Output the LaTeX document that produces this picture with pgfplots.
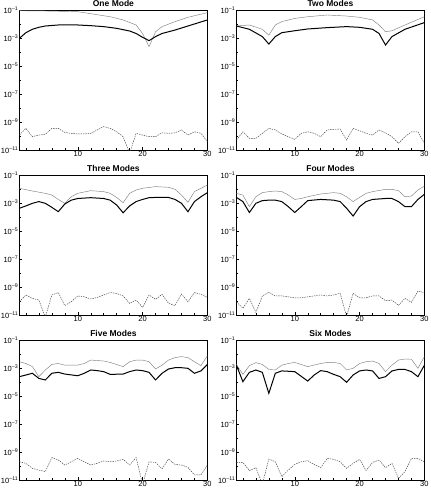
\documentclass[border=0pt]{standalone}
\usepackage{pgfplots}
\pgfplotsset{compat=1.18}
\usepackage{fontspec}
\setmainfont{Liberation Sans}

\pgfplotsset{
  every axis/.append style={
    scale only axis, width=188pt, height=140pt, anchor=north west,
    xmin=1, xmax=30, ymin=1e-11, ymax=1e-1,
    xtick={10,20,30}, xticklabels={10,20,30}, minor xtick={2,4,...,28},
    ytick={1e-11,1e-9,1e-7,1e-5,1e-3,1e-1},
    yticklabels={10\textsuperscript{–11},10\textsuperscript{–9},10\textsuperscript{–7},10\textsuperscript{–5},10\textsuperscript{–3},10\textsuperscript{–1}},
    minor ytick={1e-10,1e-8,1e-6,1e-4,1e-2},
    xtick pos=bottom, ytick pos=left,
    tick align=inside, major tick length=3pt, minor tick length=2pt,
    tick style={black, line width=0.4pt},
    axis line style={line width=0.5pt},
    xticklabel style={font=\fontsize{7.5}{8}\selectfont, inner sep=1.5pt},
    yticklabel style={font=\fontsize{7.5}{8}\selectfont, inner sep=1pt},
    title style={font=\bfseries\fontsize{8.5}{9}\selectfont, anchor=south, inner sep=0pt, yshift=-2.5pt},
  },
}
\tikzset{
  upper/.style={color=black!50, line width=0.45pt},
  lower/.style={color=black, line width=1.0pt},
  resid/.style={color=black!75, line width=0.45pt, dash pattern=on 1.4pt off 1pt},
}

\begin{document}
\begin{tikzpicture}
\path (0,0) rectangle (425pt,-497pt);

% ---------------- One Mode ----------------
\begin{axis}[ymode=log, at={(15pt,-10pt)}, title={One Mode}]
\addplot[upper] coordinates {(1,8.9e-2)(5,8.5e-2)(10,7.6e-2)(15,3.3e-2)(17,1.95e-2)(19,8.5e-3)(20,2.1e-3)(21,2.4e-4)(22,2.8e-3)(23,6.5e-3)(25,1.48e-2)(27,3.0e-2)(30,6.5e-2)};
\addplot[lower] coordinates {(1,9.5e-4)(2,2.4e-3)(3,4.2e-3)(4,5.8e-3)(5,7.2e-3)(7,8.5e-3)(10,8.5e-3)(12,7.6e-3)(14,6.5e-3)(16,4.9e-3)(18,3.16e-3)(19,2.1e-3)(20,1.12e-3)(21,6.5e-4)(22,1.26e-3)(23,2.1e-3)(25,3.7e-3)(27,7.2e-3)(30,1.95e-2)};
\addplot[resid] coordinates {(1,1.17e-10)(2,3.5e-10)(3,8.9e-11)(4,1.17e-10)(5,1.3e-10)(6,3.5e-10)(7,3.5e-10)(8,1.8e-10)(9,1.55e-10)(10,1.4e-10)(11,1.4e-10)(12,1.55e-10)(13,2.7e-10)(14,4.7e-10)(15,3.5e-10)(16,2.0e-10)(17,8.9e-11)(18,5.8e-12)(19,1.55e-10)(20,1.17e-10)(21,8.9e-11)(22,8.9e-11)(23,1.7e-10)(24,1.55e-10)(25,1.7e-10)(26,2.7e-10)(27,1.17e-10)(28,2.0e-10)(29,1.55e-10)(30,4.0e-11)};
\end{axis}

% ---------------- Two Modes ----------------
\begin{axis}[ymode=log, at={(232pt,-10pt)}, title={Two Modes}]
\addplot[upper] coordinates {(1,7.2e-3)(3,8.5e-3)(5,4.2e-3)(6,1.6e-3)(7,8.5e-3)(8,1.48e-2)(10,2.5e-2)(12,3.3e-2)(15,4.4e-2)(18,3.7e-2)(20,3.0e-2)(22,1.95e-2)(23,8.5e-3)(24,2.8e-3)(25,3.3e-3)(27,8.5e-3)(30,3.3e-2)};
\addplot[lower] coordinates {(1,7.2e-3)(3,4.2e-3)(5,1.26e-3)(6,3.7e-4)(7,1.26e-3)(8,2.4e-3)(10,3.3e-3)(12,4.4e-3)(15,5.5e-3)(18,6.5e-3)(20,5.8e-3)(22,4.2e-3)(23,2.1e-3)(24,3.16e-4)(25,1.26e-3)(27,4.2e-3)(30,1.26e-2)};
\addplot[resid] coordinates {(1,5.1e-11)(2,2.0e-10)(3,6.8e-11)(4,6.8e-11)(5,1.55e-10)(6,3.5e-10)(7,2.7e-10)(8,1.4e-10)(9,8.9e-11)(10,5.8e-11)(11,1.55e-10)(12,2.0e-10)(13,1.55e-10)(14,8.9e-11)(15,2.7e-10)(16,3.0e-10)(17,3.1e-10)(18,5.1e-11)(19,3.5e-10)(20,2.4e-10)(21,1.55e-10)(22,1.17e-10)(23,2.7e-10)(24,1.7e-10)(25,8.9e-11)(26,3.0e-11)(27,8.9e-11)(28,2.0e-10)(29,2.0e-10)(30,3.0e-11)};
\end{axis}

% ---------------- Three Modes ----------------
\begin{axis}[ymode=log, at={(15pt,-175pt)}, title={Three Modes}]
\addplot[upper] coordinates {(1,1.12e-2)(3,7.2e-3)(5,4.9e-3)(6,3.7e-3)(7,1.8e-3)(8,9.5e-4)(9,2.8e-3)(10,4.9e-3)(12,7.6e-3)(14,6.5e-3)(15,4.9e-3)(16,2.5e-3)(17,1.05e-3)(18,4.9e-3)(19,8.5e-3)(20,1.12e-2)(22,1.48e-2)(24,1.32e-2)(25,9.5e-3)(26,3.7e-3)(27,1.12e-3)(28,6.5e-3)(29,1.12e-2)(30,1.95e-2)};
\addplot[lower] coordinates {(1,4.2e-4)(2,6.2e-4)(3,9.5e-4)(4,1.26e-3)(5,9.5e-4)(6,4.9e-4)(7,2.4e-4)(8,8.5e-4)(9,1.6e-3)(10,2.1e-3)(12,2.4e-3)(14,2.1e-3)(15,1.6e-3)(16,7.2e-4)(17,2.0e-4)(18,6.2e-4)(19,1.26e-3)(20,1.8e-3)(21,2.4e-3)(22,2.5e-3)(24,2.5e-3)(25,1.8e-3)(26,9.5e-4)(27,2.4e-4)(28,1.26e-3)(29,2.8e-3)(30,5.5e-3)};
\addplot[resid] coordinates {(1,8.9e-11)(2,2.7e-10)(3,1.55e-10)(4,1.17e-10)(5,7e-12)(6,2.7e-10)(7,4.0e-10)(8,4.7e-11)(9,8.9e-11)(10,2.3e-10)(11,2.0e-10)(12,1.4e-10)(13,1.8e-10)(14,2.7e-10)(15,4.0e-10)(16,3.5e-10)(17,2.3e-10)(18,6.8e-11)(19,1.17e-10)(20,3.5e-11)(21,2.7e-10)(22,1.3e-10)(23,3.0e-10)(24,6.8e-11)(25,4.7e-11)(26,3.16e-10)(27,8.9e-11)(28,4.0e-10)(29,3.0e-10)(30,1.8e-10)};
\end{axis}

% ---------------- Four Modes ----------------
\begin{axis}[ymode=log, at={(232pt,-175pt)}, title={Four Modes}]
\addplot[upper] coordinates {(1,4.9e-3)(2,3.7e-3)(3,5.5e-4)(4,2.8e-3)(5,5.5e-3)(6,6.5e-3)(7,7.2e-3)(8,6.5e-3)(9,3.7e-3)(10,1.8e-3)(11,2.1e-3)(12,2.8e-3)(14,4.4e-3)(16,5.5e-3)(17,4.9e-3)(18,2.8e-3)(19,1.26e-3)(20,2.5e-3)(21,4.9e-3)(22,6.5e-3)(24,9.5e-3)(25,9.5e-3)(26,7.6e-3)(27,2.8e-3)(28,3.16e-3)(29,8.5e-3)(30,1.62e-2)};
\addplot[lower] coordinates {(1,2.5e-3)(2,1.26e-3)(3,2.1e-4)(4,9.5e-4)(5,1.48e-3)(6,1.6e-3)(7,1.6e-3)(8,1.26e-3)(9,5.5e-4)(10,2.1e-4)(11,5.5e-4)(12,1.48e-3)(14,1.8e-3)(16,1.6e-3)(17,1.26e-3)(18,4.2e-4)(19,1.17e-4)(20,5.5e-4)(21,1.26e-3)(22,1.8e-3)(24,2.1e-3)(25,2.1e-3)(26,1.26e-3)(27,5.5e-4)(28,5.5e-4)(29,1.8e-3)(30,4.2e-3)};
\addplot[resid] coordinates {(1,8.9e-11)(2,3.0e-11)(3,1.55e-10)(4,1.55e-11)(5,2.3e-10)(6,4.2e-10)(7,2.3e-10)(8,2.3e-10)(9,2.0e-10)(10,1.7e-10)(11,1.7e-10)(12,2.0e-10)(13,2.3e-10)(14,2.7e-10)(15,2.3e-10)(16,2.7e-10)(17,3.5e-10)(18,8e-12)(19,3.5e-10)(20,1.7e-10)(21,1.7e-10)(22,2.3e-10)(23,2.3e-10)(24,1.05e-10)(25,1.17e-10)(26,4.9e-11)(27,1.55e-10)(28,8.0e-11)(29,5.1e-10)(30,4.0e-10)};
\end{axis}

% ---------------- Five Modes ----------------
\begin{axis}[ymode=log, at={(15pt,-340pt)}, title={Five Modes}]
\addplot[upper] coordinates {(1,2.8e-3)(2,2.1e-3)(3,1.26e-3)(4,2.4e-4)(5,7.2e-4)(6,1.8e-3)(7,2.1e-3)(8,1.6e-3)(10,1.6e-3)(11,2.1e-3)(12,3.7e-3)(14,3.16e-3)(15,2.5e-3)(17,1.26e-3)(18,2.8e-3)(19,3.7e-3)(20,3.7e-3)(21,2.8e-3)(22,8.5e-4)(23,1.6e-3)(24,3.7e-3)(25,5.5e-3)(26,6.5e-3)(27,5.5e-3)(28,2.8e-3)(29,1.48e-3)(30,7.6e-3)};
\addplot[lower] coordinates {(1,2.4e-4)(2,3.16e-4)(3,4.2e-4)(4,1.8e-4)(5,1.4e-4)(6,4.2e-4)(7,4.9e-4)(8,3.7e-4)(10,2.8e-4)(11,4.2e-4)(12,7.2e-4)(13,6.5e-4)(14,5.5e-4)(15,3.5e-4)(17,3.7e-4)(18,5.5e-4)(19,7.2e-4)(20,6.5e-4)(21,4.9e-4)(22,1.4e-4)(23,4.2e-4)(24,8.5e-4)(25,1.05e-3)(26,1.05e-3)(27,9.5e-4)(28,4.2e-4)(29,6.2e-4)(30,1.8e-3)};
\addplot[resid] coordinates {(1,2.0e-10)(2,1.55e-10)(3,6.8e-11)(4,5.1e-11)(5,4.0e-11)(6,4.0e-10)(7,2.7e-10)(8,1.17e-10)(9,2.0e-10)(10,3.5e-10)(11,2.0e-10)(12,1.17e-10)(13,1.55e-10)(14,2.3e-10)(15,2.0e-10)(16,2.3e-10)(17,3.0e-10)(18,1.17e-10)(19,4.0e-10)(20,5e-12)(21,2.0e-10)(22,1.8e-10)(23,6.2e-11)(24,3.16e-10)(25,1.3e-10)(26,1.17e-10)(27,8.0e-11)(28,2.3e-11)(29,2.3e-11)(30,1.17e-10)};
\end{axis}

% ---------------- Six Modes ----------------
\begin{axis}[ymode=log, at={(232pt,-340pt)}, title={Six Modes}]
\addplot[upper] coordinates {(1,1.8e-3)(2,3.5e-4)(3,1.48e-3)(4,2.4e-3)(5,1.8e-3)(6,7.9e-4)(7,7.2e-4)(8,1.6e-3)(9,2.1e-3)(10,2.5e-3)(12,1.26e-3)(14,2.1e-3)(15,2.5e-3)(16,2.5e-3)(17,2.1e-3)(18,7.2e-4)(19,9.5e-4)(20,2.1e-3)(21,2.8e-3)(22,3.16e-3)(23,2.1e-3)(24,5.5e-4)(25,1.6e-3)(26,3.7e-3)(27,4.4e-3)(28,4.2e-3)(29,9.5e-4)(30,6.5e-3)};
\addplot[lower] coordinates {(1,1.6e-3)(2,1.05e-4)(3,4.9e-4)(4,7.2e-4)(5,4.9e-4)(6,1.55e-5)(7,4.2e-4)(8,6.2e-4)(10,5.5e-4)(12,1.17e-4)(13,3.16e-4)(14,6.5e-4)(15,5.5e-4)(16,3.5e-4)(17,2.4e-4)(18,9.5e-5)(19,3.16e-4)(20,6.2e-4)(21,7.2e-4)(22,6.2e-4)(23,1.8e-4)(24,2.4e-4)(25,6.2e-4)(26,7.9e-4)(27,7.9e-4)(28,5.5e-4)(29,2.4e-4)(30,1.6e-3)};
\addplot[resid] coordinates {(1,1.8e-10)(2,1.8e-10)(3,4.7e-11)(4,7.6e-11)(5,5e-12)(6,3.16e-10)(7,2.0e-10)(8,1.74e-11)(9,5.1e-11)(10,1.3e-10)(11,2.0e-10)(12,2.4e-10)(13,1.3e-10)(14,7.6e-11)(15,3.5e-10)(16,3.0e-10)(17,2.0e-10)(18,6.8e-11)(19,1.55e-10)(20,3.0e-10)(21,4.7e-11)(22,1.8e-10)(23,2.7e-10)(24,7.6e-11)(25,1.55e-10)(26,1.3e-11)(27,4.0e-11)(28,3.5e-10)(29,3.5e-10)(30,2.0e-10)};
\end{axis}
\end{tikzpicture}
\end{document}
